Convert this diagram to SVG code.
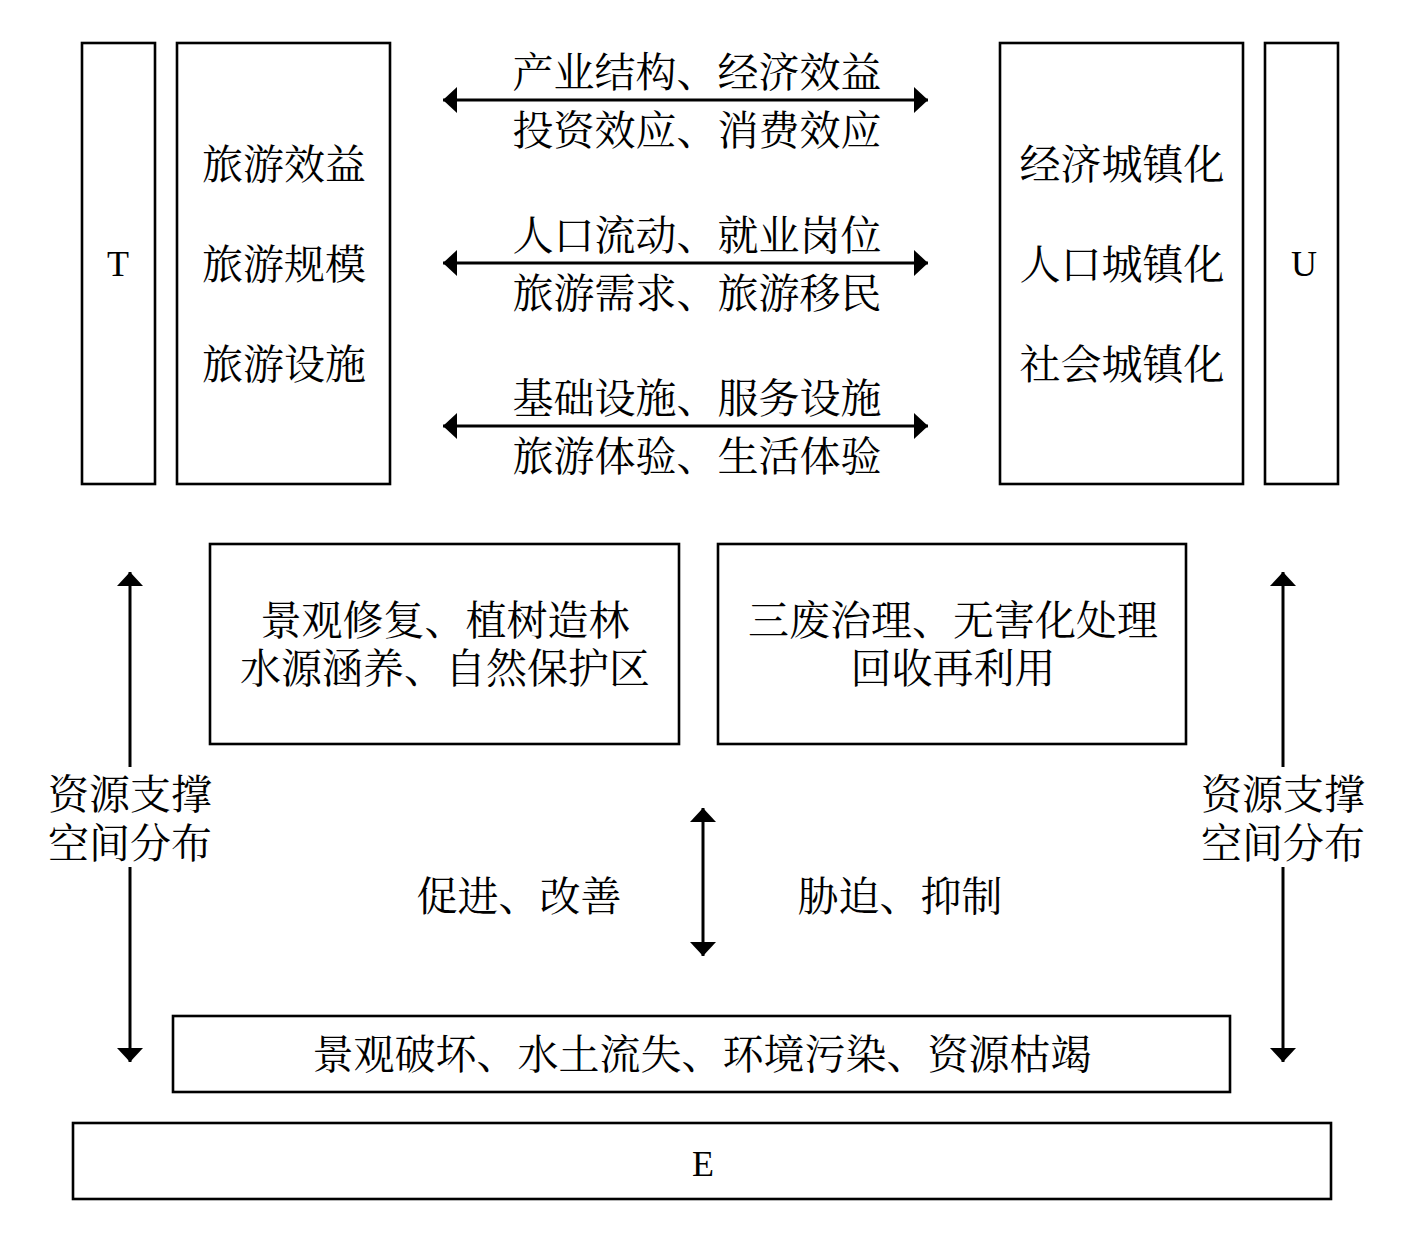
<svg xmlns="http://www.w3.org/2000/svg" width="1417" height="1243" viewBox="0 0 1417 1243">
<style>
.box{fill:#fff;stroke:#000;stroke-width:2.6}
.t{font-family:"Noto Serif CJK SC","Noto Sans CJK SC",serif;font-size:41px;fill:#000;text-anchor:middle}
.l{font-family:"Liberation Serif",serif;font-size:36px;fill:#000;text-anchor:middle}
.c{stroke:#000;stroke-width:3;fill:none;marker-start:url(#ah);marker-end:url(#ah)}
.p{stroke:#000;stroke-width:3;fill:none}
</style>
<defs>
<marker id="ah" viewBox="0 0 14 26" refX="14" refY="13" markerWidth="14" markerHeight="26" markerUnits="userSpaceOnUse" orient="auto-start-reverse">
<path d="M0,0 L14,13 L0,26 Z" fill="#000"/>
</marker>
</defs>
<rect width="1417" height="1243" fill="#fff"/>
<g id="T"><rect class="box" x="82" y="43" width="73" height="441"/><text class="l" x="118" y="276">T</text></g>
<g id="tourism"><rect class="box" x="177" y="43" width="213" height="441"/>
<text class="t" x="284" y="179">旅游效益</text>
<text class="t" x="284" y="279">旅游规模</text>
<text class="t" x="284" y="379">旅游设施</text></g>
<g id="urban"><rect class="box" x="1000" y="43" width="243" height="441"/>
<text class="t" x="1122" y="179">经济城镇化</text>
<text class="t" x="1122" y="279">人口城镇化</text>
<text class="t" x="1122" y="379">社会城镇化</text></g>
<g id="U"><rect class="box" x="1265" y="43" width="73" height="441"/><text class="l" x="1304" y="276">U</text></g>
<g id="ecoA"><rect class="box" x="210" y="544" width="469" height="200"/>
<text class="t" x="445" y="635">景观修复、植树造林</text>
<text class="t" x="445" y="683">水源涵养、自然保护区</text></g>
<g id="ecoB"><rect class="box" x="718" y="544" width="468" height="200"/>
<text class="t" x="953" y="635">三废治理、无害化处理</text>
<text class="t" x="953" y="683">回收再利用</text></g>
<g id="problems"><rect class="box" x="173" y="1016" width="1057" height="76"/>
<text class="t" x="702" y="1069">景观破坏、水土流失、环境污染、资源枯竭</text></g>
<g id="E"><rect class="box" x="73" y="1123" width="1258" height="76"/><text class="l" x="703" y="1176">E</text></g>
<g id="connectors">
<line class="c" x1="443" y1="100" x2="928" y2="100"/>
<line class="c" x1="443" y1="263" x2="928" y2="263"/>
<line class="c" x1="443" y1="426" x2="928" y2="426"/>
<line class="p" x1="130" y1="572" x2="130" y2="767" marker-start="url(#ah)"/>
<line class="p" x1="130" y1="867" x2="130" y2="1062" marker-end="url(#ah)"/>
<line class="p" x1="1283" y1="572" x2="1283" y2="767" marker-start="url(#ah)"/>
<line class="p" x1="1283" y1="867" x2="1283" y2="1062" marker-end="url(#ah)"/>
<line class="c" x1="703" y1="808" x2="703" y2="956"/>
</g>
<g id="labels">
<text class="t" x="697" y="87">产业结构、经济效益</text>
<text class="t" x="697" y="145">投资效应、消费效应</text>
<text class="t" x="697" y="250">人口流动、就业岗位</text>
<text class="t" x="697" y="308">旅游需求、旅游移民</text>
<text class="t" x="697" y="413">基础设施、服务设施</text>
<text class="t" x="697" y="471">旅游体验、生活体验</text>
<text class="t" x="130" y="809">资源支撑</text>
<text class="t" x="130" y="858">空间分布</text>
<text class="t" x="1283" y="809">资源支撑</text>
<text class="t" x="1283" y="858">空间分布</text>
<text class="t" x="519" y="911">促进、改善</text>
<text class="t" x="900" y="911">胁迫、抑制</text>
</g>
</svg>
